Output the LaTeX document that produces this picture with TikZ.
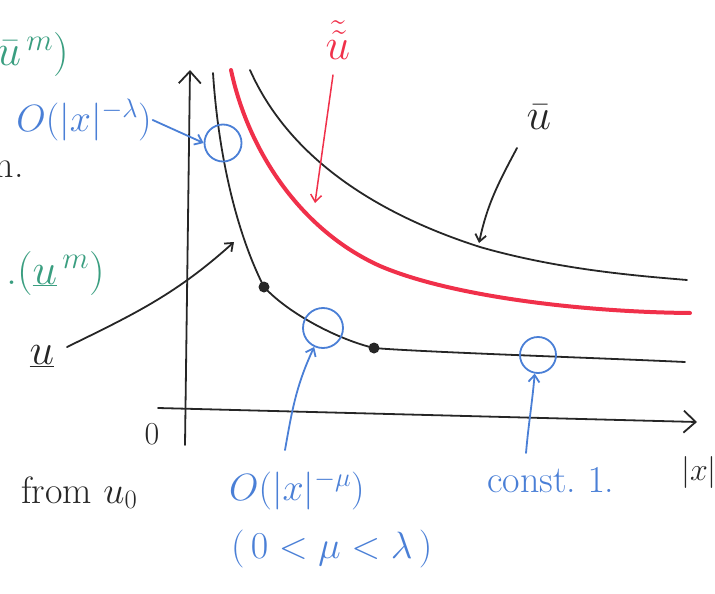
\RequirePackage{fix-cm}
\documentclass[tikz,border=0pt]{standalone}
\usetikzlibrary{arrows.meta}
\definecolor{pblue}{HTML}{4A7FD6}
\definecolor{pred}{HTML}{F0304A}
\definecolor{pgreen}{HTML}{3A9E80}
\definecolor{pblack}{HTML}{262626}
\tikzset{
  axisline/.style={pblack, line width=1.8pt, -{Straight Barb[length=12pt,width=22pt,line width=1.8pt]}},
  blackcurve/.style={pblack, line width=1.8pt},
  redcurve/.style={pred, line width=4pt},
  bluering/.style={circle, draw=pblue, line width=1.8pt, inner sep=0pt},
  blueline/.style={pblue, line width=1.8pt, -{Straight Barb[length=7pt,width=11pt,line width=1.8pt]}},
  blackline/.style={pblack, line width=1.8pt, -{Straight Barb[length=7pt,width=11pt,line width=1.8pt]}},
  redline/.style={pred, line width=1.5pt, -{Straight Barb[length=7pt,width=11pt,line width=1.5pt]}},
  dotmark/.style={circle, fill=pblack, inner sep=0pt, minimum size=11pt},
  bigtext/.style={font=\fontsize{38}{40}\selectfont, inner sep=1pt},
  hugetext/.style={font=\fontsize{44}{46}\selectfont, inner sep=1pt},
  midtext/.style={font=\fontsize{32}{34}\selectfont, inner sep=1pt},
}
\begin{document}
\begin{tikzpicture}[x=1pt,y=-1pt, line cap=round, line join=round]
\useasboundingbox (0,0) rectangle (715,594);
\clip (0,0) rectangle (715,594);
% axes
\coordinate (yb) at (185,445);
\coordinate (yt) at (190,70);
\draw[axisline] (yb) -- (yt);
\coordinate (xl) at (158,408);
\coordinate (xr) at (697,422);
\draw[axisline] (xl) -- (xr);
\node[midtext, pblack] (zero) at (152,434) {$0$};
\node[midtext, pblack] (absx) at (699,472) {$|x|$};
% curves
\draw[blackcurve] (250,70) .. controls (290,160) and (380,215) .. (480,247) .. controls (560,270) and (640,276) .. (687,280);
\draw[redcurve] (231,70) .. controls (248,150) and (300,230) .. (380,266) .. controls (450,296) and (580,312) .. (690,313);
\draw[blackcurve] (213,73) .. controls (218,150) and (235,230) .. (264,287) .. controls (290,315) and (340,340) .. (374,348) .. controls (420,352) and (600,358) .. (685,362);
\node[dotmark] (d1) at (264,287) {};
\node[dotmark] (d2) at (374,348) {};
% blue rings
\node[bluering, minimum size=37pt] (c1) at (223,143) {};
\node[bluering, minimum size=40pt] (c2) at (323,328) {};
\node[bluering, minimum size=36pt] (c3) at (538,355) {};
% labels left (cropped)
\node[hugetext, pgreen, anchor=base east] (gtop) at (70,66) {$(\bar{u}^{\,m})$};
\node[bigtext, pblack, anchor=base east] (nn) at (25,177) {n.};
\node[hugetext, pgreen, anchor=base east] (gmid) at (106,284) {.$(\underline{u}^{\,m})$};
% O(|x|^-lambda)
\node[bigtext, pblue] (olam) at (84,120) {$O(|x|^{-\lambda})$};
\draw[blueline] (olam.east) -- (c1.west);
% u-bar label
\node[hugetext, pblack] (ubar) at (539,117) {$\bar{u}$};
\coordinate (ubarhit) at (479,243);
\coordinate (ubs) at (517,148);
\draw[blackline] (ubs) to[out=-118, in=78] (ubarhit);
% u-tilde-tilde label
\node[hugetext, pred] (utt) at (338,40) {$\tilde{\tilde{u}}$};
\coordinate (uts) at (333,75);
\coordinate (utthit) at (315,203);
\draw[redline] (uts) -- (utthit);
% u-underline label
\node[hugetext, pblack] (uund) at (42,356) {$\underline{u}$};
\coordinate (uus) at (67,347);
\coordinate (uundhit) at (234,242);
\draw[blackline] (uus) to[out=26, in=-138] (uundhit);
% bottom texts
\node[bigtext, pblack, anchor=base west] (from) at (20,503) {from $u_0$};
\node[bigtext, pblue, anchor=base west] (omu) at (228,500) {$O(|x|^{-\mu})$};
\node[bigtext, pblue, anchor=base west] (cond) at (230,558) {$(\,0<\mu<\lambda\,)$};
\node[bigtext, pblue, anchor=base west] (const) at (486,492) {const.\ $1$.};
\coordinate (omus) at (285,450);
\draw[blueline] (omus) to[out=80, in=-115] (c2.-115);
\coordinate (consts) at (526,453);
\draw[blueline] (consts) to[out=85, in=-95] (c3.-100);
\end{tikzpicture}
\end{document}
